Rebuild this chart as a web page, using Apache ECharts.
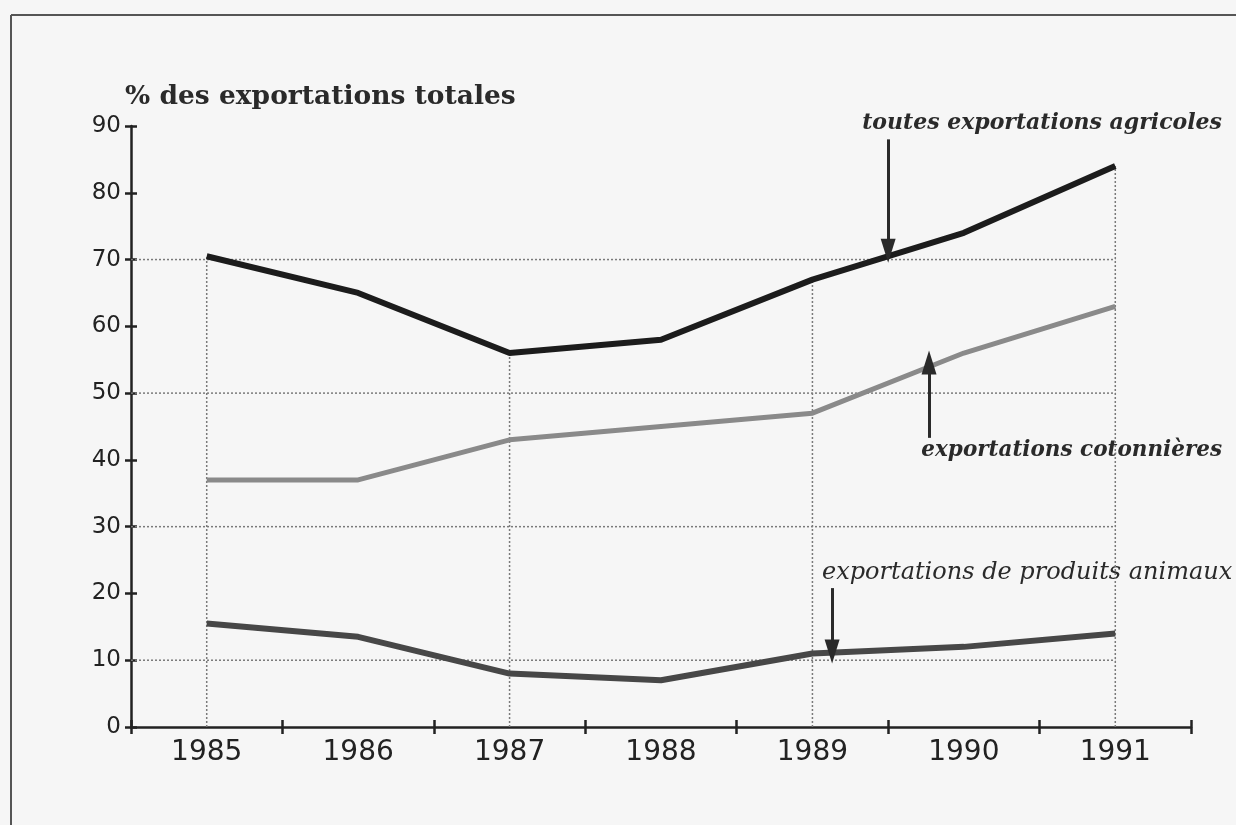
<!DOCTYPE html>
<html>
<head>
<meta charset="utf-8">
<script src="https://cdn.jsdelivr.net/npm/echarts@6/dist/echarts.min.js"></script>
<style>
html,body{margin:0;padding:0;background:#f6f6f6;}
#c{width:1236px;height:825px;}
</style>
</head>
<body>
<div id="c"></div>
<script>
// ---- data ----
var years = ['1985','1986','1987','1988','1989','1990','1991'];
var agricoles = [70.5, 65, 56, 58, 67, 74, 84];
var cotonnieres = [37, 37, 43, 45, 47, 56, 63];
var animaux = [15.5, 13.5, 8, 7, 11, 12, 14];
var yTicks = [0, 10, 20, 30, 40, 50, 60, 70, 80, 90];
var gridValues = [10, 30, 50, 70];
var dropYears = ['1985', '1987', '1989', '1991'];

var chart = echarts.init(document.getElementById('c'), null, {renderer: 'canvas'});

var numYears = years.map(Number);
var xMinV = numYears[0] - 0.5, xMaxV = numYears[numYears.length - 1] + 0.5;
var lastYear = numYears[numYears.length - 1];

var dotted = {color: '#7a7a7a', width: 1.5, type: [2, 2]};
var refSeries = [];
gridValues.forEach(function (g) {
  refSeries.push({
    type: 'line', xAxisIndex: 1, yAxisIndex: 0, symbol: 'none', silent: true, z: 1,
    lineStyle: dotted, data: [[xMinV, g], [lastYear, g]]
  });
});
dropYears.forEach(function (y) {
  var v = agricoles[years.indexOf(y)];
  refSeries.push({
    type: 'line', xAxisIndex: 1, yAxisIndex: 0, symbol: 'none', silent: true, z: 1,
    lineStyle: dotted, data: [[Number(y), 0], [Number(y), v]]
  });
});

var arrowStyle = {color: '#2a2a2a', width: 3, type: 'solid'};
var arrowSeries = {
  type: 'line', xAxisIndex: 1, yAxisIndex: 0, data: [], silent: true, z: 5,
  markLine: {
    silent: true, animation: false,
    symbol: ['none', 'triangle'], symbolSize: [15, 24],
    label: {show: false},
    lineStyle: arrowStyle,
    data: [
      [{coord: [1989.5, 88]}, {coord: [1989.5, 71.3]}],
      [{coord: [1989.77, 43.3]}, {coord: [1989.77, 54.6]}],
      [{coord: [1989.13, 20.8]}, {coord: [1989.13, 11.3]}]
    ]
  }
};

var lblFont = 'DejaVu Sans';
var serif = '"DejaVu Serif", serif';
var option = {
  backgroundColor: '#f6f6f6',
  animation: false,
  grid: {left: 131, right: 45, top: 126, bottom: 98, containLabel: false},
  xAxis: [
    {
      type: 'category', data: years, boundaryGap: true, position: 'bottom',
      axisLine: {lineStyle: {color: '#222', width: 2.5}},
      axisTick: {show: true, length: 7, lineStyle: {color: '#222', width: 2.5}},
      axisLabel: {color: '#222', fontFamily: lblFont, fontSize: 28, margin: 12},
      splitLine: {show: false}
    },
    {
      type: 'value', min: xMinV, max: xMaxV, show: false, position: 'bottom'
    },
    {
      type: 'category', data: years, boundaryGap: true, position: 'bottom',
      axisLine: {show: false},
      axisTick: {show: true, inside: true, length: 7, lineStyle: {color: '#222', width: 2.5}},
      axisLabel: {show: false}, splitLine: {show: false}
    }
  ],
  yAxis: [
    {
      type: 'value', min: yTicks[0], max: yTicks[yTicks.length - 1], interval: 10,
      axisLine: {show: true, lineStyle: {color: '#222', width: 2.5}},
      axisTick: {show: true, length: 6, lineStyle: {color: '#222', width: 2.5}},
      axisLabel: {color: '#222', fontFamily: lblFont, fontSize: 23, margin: 10},
      splitLine: {show: false}
    },
    {
      type: 'value', min: yTicks[0], max: yTicks[yTicks.length - 1], interval: 10,
      position: 'left',
      axisLine: {show: false},
      axisTick: {show: true, inside: true, length: 6, lineStyle: {color: '#222', width: 2.5}},
      axisLabel: {show: false}, splitLine: {show: false}
    }
  ],
  series: refSeries.concat([
    {
      name: 'toutes exportations agricoles', type: 'line', data: agricoles,
      xAxisIndex: 0, yAxisIndex: 0, symbol: 'none', z: 3,
      lineStyle: {color: '#1c1c1c', width: 6}
    },
    {
      name: 'exportations cotonnières', type: 'line', data: cotonnieres,
      xAxisIndex: 0, yAxisIndex: 0, symbol: 'none', z: 3,
      lineStyle: {color: '#8a8a8a', width: 5}
    },
    {
      name: 'exportations de produits animaux', type: 'line', data: animaux,
      xAxisIndex: 0, yAxisIndex: 0, symbol: 'none', z: 3,
      lineStyle: {color: '#474747', width: 6}
    },
    arrowSeries
  ]),
  graphic: [
    {type: 'line', shape: {x1: 11, y1: 15, x2: 1236, y2: 15}, style: {stroke: '#555', lineWidth: 2}},
    {type: 'line', shape: {x1: 11, y1: 15, x2: 11, y2: 825}, style: {stroke: '#555', lineWidth: 2}},
    {type: 'text', left: 125, top: 84, style: {text: '% des exportations totales', fill: '#2a2a2a',
      font: 'bold 26.5px ' + serif}},
    {type: 'text', right: 14, top: 112, style: {text: 'toutes exportations agricoles', fill: '#2a2a2a',
      font: 'italic bold 22px ' + serif}},
    {type: 'text', right: 14, top: 439, style: {text: 'exportations cotonnières', fill: '#2a2a2a',
      font: 'italic bold 21.5px ' + serif}},
    {type: 'text', left: 822, top: 561, style: {text: 'exportations de produits animaux', fill: '#2a2a2a',
      font: 'italic 24px ' + serif}}
  ]
};
chart.setOption(option);
</script>
</body>
</html>
